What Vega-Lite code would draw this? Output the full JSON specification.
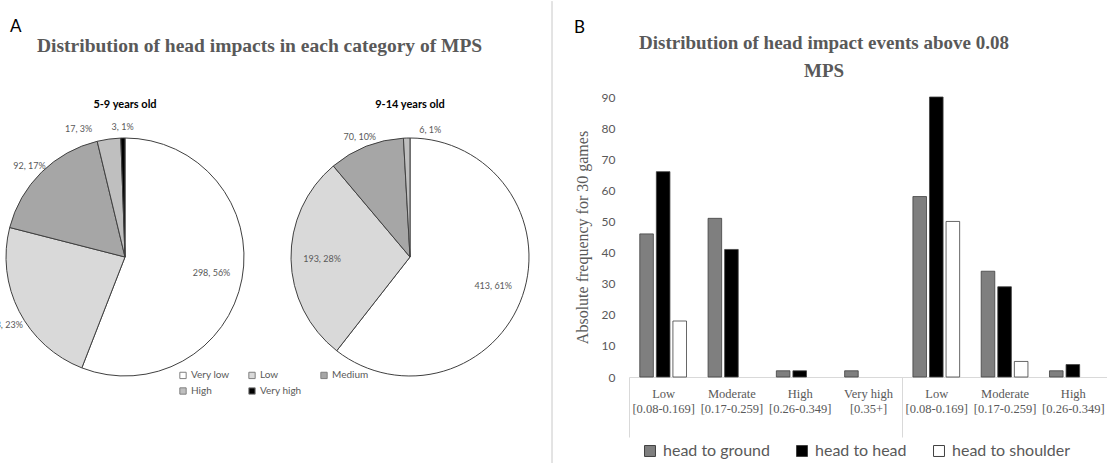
{
  "$schema": "https://vega.github.io/schema/vega-lite/v6.json",
  "background": "white",
  "padding": {"left": 0, "top": 0, "right": 0, "bottom": 0},
  "spacing": 16,
  "config": {"view": {"stroke": null}, "font": "Lato"},
  "resolve": {"scale": {"color": "independent"}},
  "datasets": {
    "pies": [
      {"age": "5-9 years old", "cat": "Very low", "o": 1, "n": 298, "label": "298, 56%"},
      {"age": "5-9 years old", "cat": "Low", "o": 2, "n": 123, "label": "123, 23%"},
      {"age": "5-9 years old", "cat": "Medium", "o": 3, "n": 92, "label": "92, 17%"},
      {"age": "5-9 years old", "cat": "High", "o": 4, "n": 17, "label": "17, 3%"},
      {"age": "5-9 years old", "cat": "Very high", "o": 5, "n": 3, "label": "3, 1%"},
      {"age": "9-14 years old", "cat": "Very low", "o": 1, "n": 413, "label": "413, 61%"},
      {"age": "9-14 years old", "cat": "Low", "o": 2, "n": 193, "label": "193, 28%"},
      {"age": "9-14 years old", "cat": "Medium", "o": 3, "n": 70, "label": "70, 10%"},
      {"age": "9-14 years old", "cat": "High", "o": 4, "n": 6, "label": "6, 1%"}
    ],
    "bars": [
      {"cat": "1|Low|[0.08-0.169]", "type": "head to ground", "n": 46},
      {"cat": "1|Low|[0.08-0.169]", "type": "head to head", "n": 66},
      {"cat": "1|Low|[0.08-0.169]", "type": "head to shoulder", "n": 18},
      {"cat": "1|Moderate|[0.17-0.259]", "type": "head to ground", "n": 51},
      {"cat": "1|Moderate|[0.17-0.259]", "type": "head to head", "n": 41},
      {"cat": "1|High|[0.26-0.349]", "type": "head to ground", "n": 2},
      {"cat": "1|High|[0.26-0.349]", "type": "head to head", "n": 2},
      {"cat": "1|Very high|[0.35+]", "type": "head to ground", "n": 2},
      {"cat": "2|Low|[0.08-0.169]", "type": "head to ground", "n": 58},
      {"cat": "2|Low|[0.08-0.169]", "type": "head to head", "n": 90},
      {"cat": "2|Low|[0.08-0.169]", "type": "head to shoulder", "n": 50},
      {"cat": "2|Moderate|[0.17-0.259]", "type": "head to ground", "n": 34},
      {"cat": "2|Moderate|[0.17-0.259]", "type": "head to head", "n": 29},
      {"cat": "2|Moderate|[0.17-0.259]", "type": "head to shoulder", "n": 5},
      {"cat": "2|High|[0.26-0.349]", "type": "head to ground", "n": 2},
      {"cat": "2|High|[0.26-0.349]", "type": "head to head", "n": 4}
    ]
  },
  "hconcat": [
    {
      "title": {"text": "A", "anchor": "start", "font": "Lato", "fontSize": 17, "fontWeight": "normal", "color": "#000000", "dx": 10, "offset": 0},
      "vconcat": [
        {
          "title": {"text": "Distribution of head impacts in each category of MPS", "anchor": "start", "font": "Liberation Serif", "fontSize": 19.5, "fontWeight": "bold", "color": "#595959", "offset": 41, "dx": 37},
          "spacing": 35,
          "hconcat": [
            {
              "width": 250, "height": 320,
              "title": {"text": "5-9 years old", "font": "Lato", "fontSize": 11, "fontWeight": "bold", "color": "#000000", "offset": -13},
              "data": {"name": "pies"},
              "transform": [{"filter": "datum.age == '5-9 years old'"}],
              "encoding": {
                "theta": {"field": "n", "type": "quantitative", "stack": true},
                "order": {"field": "o", "type": "quantitative"},
                "color": {
                  "field": "cat", "type": "nominal",
                  "scale": {"domain": ["Very low", "Low", "Medium", "High", "Very high"], "range": ["#ffffff", "#d9d9d9", "#a6a6a6", "#bfbfbf", "#000000"]},
                  "legend": {"orient": "none", "legendX": 178, "legendY": 273, "direction": "horizontal", "title": null, "columns": 3, "symbolType": "square", "symbolSize": 40, "symbolStrokeColor": "#7f7f7f", "symbolStrokeWidth": 1, "labelFont": "Lato", "labelFontSize": 10, "labelColor": "#595959", "columnPadding": 16, "rowPadding": 4, "labelOffset": 3}
                }
              },
              "layer": [
                {"mark": {"type": "arc", "outerRadius": 119, "stroke": "#404040", "strokeWidth": 1}},
                {"mark": {"type": "text", "radius": 88, "fontSize": 9, "font": "Lato", "clip": true},
                 "encoding": {"text": {"field": "label"}, "color": {"value": "#595959"}, "opacity": {"condition": {"test": "datum.n >= 150", "value": 1}, "value": 0}}},
                {"mark": {"type": "text", "radius": 136, "dy": 6, "fontSize": 9, "font": "Lato", "clip": true},
                 "encoding": {"text": {"field": "label"}, "color": {"value": "#595959"}, "opacity": {"condition": {"test": "datum.n < 150 && datum.label != '17, 3%'", "value": 1}, "value": 0}}},
                {"mark": {"type": "text", "radius": 136, "dx": -28, "dy": 7, "fontSize": 9, "font": "Lato", "clip": true},
                 "encoding": {"text": {"field": "label"}, "color": {"value": "#595959"}, "opacity": {"condition": {"test": "datum.label == '17, 3%'", "value": 1}, "value": 0}}}
              ]
            },
            {
              "width": 250, "height": 320,
              "title": {"text": "9-14 years old", "font": "Lato", "fontSize": 11, "fontWeight": "bold", "color": "#000000", "offset": -13},
              "data": {"name": "pies"},
              "transform": [{"filter": "datum.age == '9-14 years old'"}],
              "encoding": {
                "theta": {"field": "n", "type": "quantitative", "stack": true},
                "order": {"field": "o", "type": "quantitative"},
                "color": {
                  "field": "cat", "type": "nominal",
                  "scale": {"domain": ["Very low", "Low", "Medium", "High", "Very high"], "range": ["#ffffff", "#d9d9d9", "#a6a6a6", "#bfbfbf", "#000000"]},
                  "legend": {"orient": "none", "legendX": 178, "legendY": 273, "direction": "horizontal", "title": null, "columns": 3, "symbolType": "square", "symbolSize": 40, "symbolStrokeColor": "#7f7f7f", "symbolStrokeWidth": 1, "labelFont": "Lato", "labelFontSize": 10, "labelColor": "#595959", "columnPadding": 16, "rowPadding": 4, "labelOffset": 3}
                }
              },
              "layer": [
                {"mark": {"type": "arc", "outerRadius": 119, "stroke": "#404040", "strokeWidth": 1}},
                {"mark": {"type": "text", "radius": 88, "fontSize": 9, "font": "Lato", "clip": true},
                 "encoding": {"text": {"field": "label"}, "color": {"value": "#595959"}, "opacity": {"condition": {"test": "datum.n >= 150", "value": 1}, "value": 0}}},
                {"mark": {"type": "text", "radius": 136, "dy": 6, "fontSize": 9, "font": "Lato", "clip": true},
                 "encoding": {"text": {"field": "label"}, "color": {"value": "#595959"}, "opacity": {"condition": {"test": "datum.n < 150 && datum.label != '6, 1%'", "value": 1}, "value": 0}}},
                {"mark": {"type": "text", "radius": 136, "dx": 24, "dy": 9, "fontSize": 9, "font": "Lato", "clip": true},
                 "encoding": {"text": {"field": "label"}, "color": {"value": "#595959"}, "opacity": {"condition": {"test": "datum.label == '6, 1%'", "value": 1}, "value": 0}}}
              ]
            }
          ]
        }
      ]
    },
    {
      "width": 6, "height": 366,
      "data": {"values": [{"s": 0}]},
      "mark": {"type": "rule", "color": "#c8c8c8", "strokeWidth": 1, "clip": false},
      "encoding": {
        "x": {"field": "s", "type": "quantitative", "axis": null, "scale": {"domain": [0, 6]}},
        "y": {"datum": 0, "type": "quantitative", "axis": null, "scale": {"domain": [0, 1]}},
        "y2": {"datum": 1.262}
      }
    },
    {
      "title": {"text": "B", "anchor": "start", "font": "Lato", "fontSize": 17, "fontWeight": "normal", "color": "#000000", "offset": -3},
      "vconcat": [
        {
          "width": 478, "height": 280,
          "title": {"text": ["Distribution of head impact events above 0.08", "MPS"], "font": "Liberation Serif", "fontSize": 19, "fontWeight": "bold", "color": "#595959", "lineHeight": 28, "offset": 10, "frame": "group", "dx": -44},
          "data": {"name": "bars"},
          "mark": {"type": "bar", "stroke": "#404040", "strokeWidth": 0.8},
          "encoding": {
            "x": {
              "field": "cat", "type": "nominal",
              "scale": {"domain": ["1|Low|[0.08-0.169]", "1|Moderate|[0.17-0.259]", "1|High|[0.26-0.349]", "1|Very high|[0.35+]", "2|Low|[0.08-0.169]", "2|Moderate|[0.17-0.259]", "2|High|[0.26-0.349]"], "paddingInner": 0, "paddingOuter": 0},
              "axis": {
                "title": null, "labelAngle": 0,
                "labelExpr": "slice(split(datum.label, '|'), 1)",
                "labelFont": "Liberation Serif", "labelFontSize": 12.5, "labelColor": "#595959", "labelLineHeight": 15,
                "labelPadding": -50, "labelOffset": 34.14, "labelBound": false, "labelFlush": false,
                "domainColor": "#d9d9d9", "domainWidth": 1,
                "tickSize": 60, "tickColor": "#d9d9d9", "tickWidth": 1, "tickOffset": -34.14,
                "tickOpacity": {"condition": {"test": "datum.value == '1|Low|[0.08-0.169]' || datum.value == '2|Low|[0.08-0.169]'", "value": 1}, "value": 0}
              }
            },
            "xOffset": {"field": "type", "type": "nominal", "scale": {"domain": ["head to ground", "head to head", "head to shoulder"], "paddingInner": 0.18, "paddingOuter": 0.65}},
            "y": {
              "field": "n", "type": "quantitative",
              "scale": {"domain": [0, 90], "nice": false},
              "axis": {"title": "Absolute frequency for 30 games", "titleFont": "Liberation Serif", "titleFontSize": 16, "titleFontWeight": "normal", "titleColor": "#595959", "titlePadding": 11,
                       "values": [0, 10, 20, 30, 40, 50, 60, 70, 80, 90], "grid": false, "domain": false, "ticks": false,
                       "labelFont": "Lato", "labelFontSize": 12, "labelColor": "#595959", "labelPadding": 14}
            },
            "color": {
              "field": "type", "type": "nominal",
              "scale": {"domain": ["head to ground", "head to head", "head to shoulder"], "range": ["#7f7f7f", "#000000", "#ffffff"]},
              "legend": {"orient": "none", "legendX": 13, "legendY": 346, "direction": "horizontal", "columns": 3, "title": null, "symbolType": "square", "symbolSize": 120, "symbolStrokeColor": "#404040", "symbolStrokeWidth": 1, "labelFont": "Lato", "labelFontSize": 16, "labelColor": "#595959", "columnPadding": 24, "labelOffset": 5}
            }
          }
        }
      ]
    }
  ]
}
